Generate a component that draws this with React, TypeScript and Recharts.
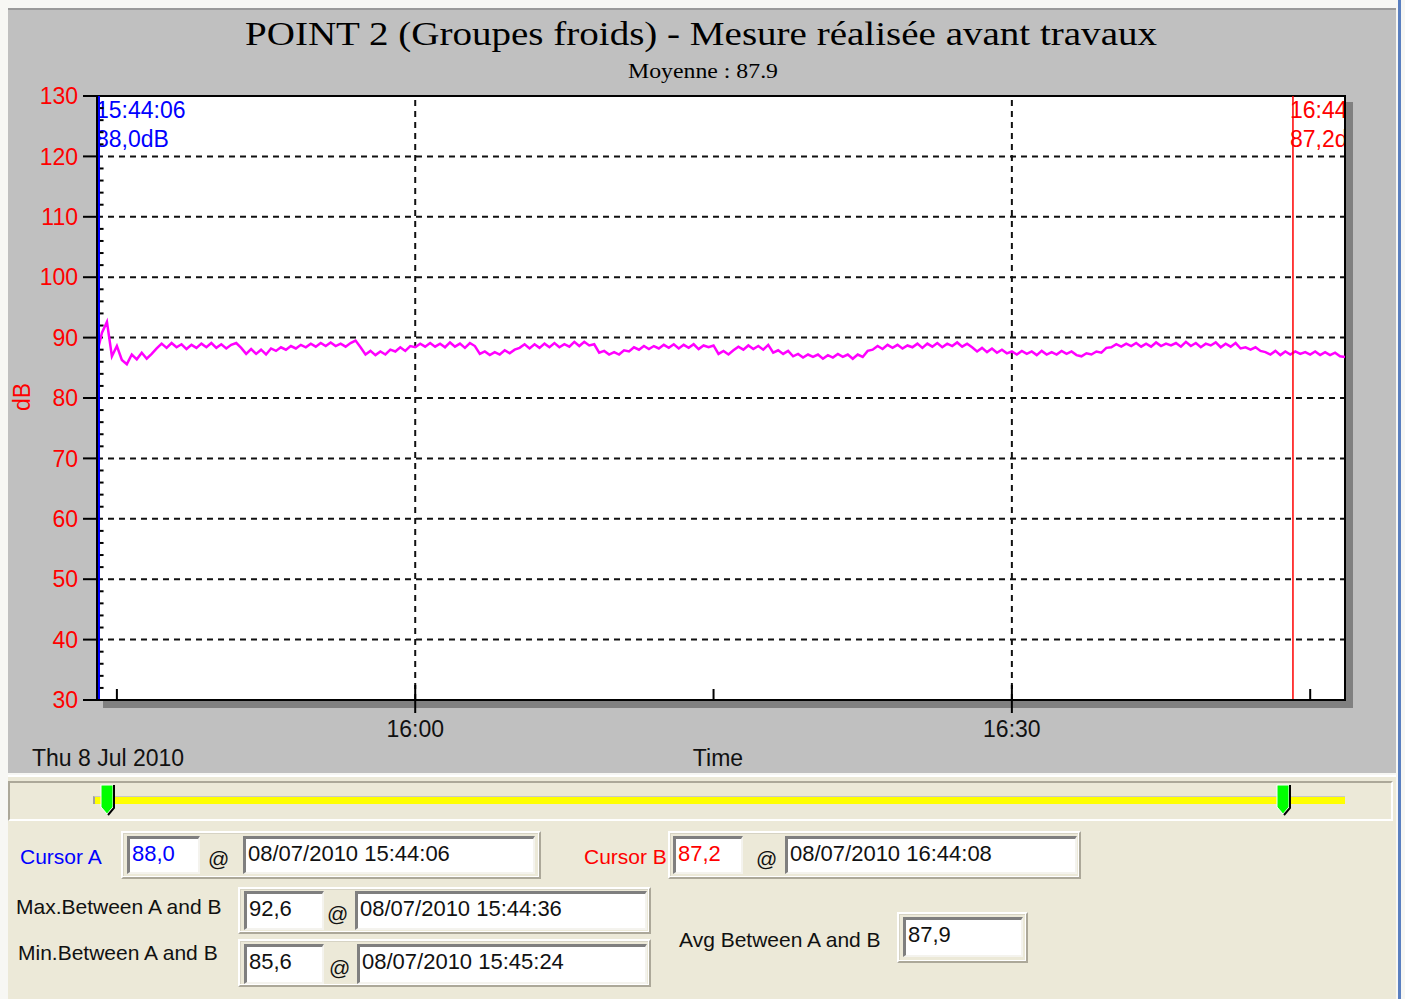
import React from "react";
import {
  LineChart,
  Line,
  XAxis,
  YAxis,
  CartesianGrid,
  ReferenceLine,
  ReferenceArea,
} from "recharts";

// one reading every 15 s, starting 15:44:00 (x axis is in minutes after 15:44)
const sampleStepMin = 0.25;
const levels = [
  87.4, 90.8, 92.6, 86.9, 88.6, 86.3, 85.6, 87.2, 86.4, 87.5, 86.5, 87.3,
  88.2, 89.0, 88.3, 89.1, 88.4, 88.9, 88.1, 88.8, 88.3, 89.0, 88.4, 89.1,
  88.3, 88.9, 88.2, 88.8, 89.1, 88.3, 87.3, 88.1, 87.3, 88.0, 87.2, 88.2,
  87.8, 88.4, 88.0, 88.6, 88.2, 88.8, 88.4, 89.0, 88.5, 89.1, 88.6, 89.2,
  88.6, 89.0, 88.5, 89.1, 89.5, 88.4, 87.2, 87.8, 87.1, 87.7, 87.2, 88.0,
  87.7, 88.4, 87.8, 88.6, 88.4, 89.0, 88.5, 89.1, 88.5, 89.0, 88.4, 89.2,
  88.5, 89.0, 88.3, 89.1, 88.6, 87.3, 87.7, 87.1, 87.6, 87.2, 87.9, 87.4,
  88.0, 88.3, 88.9, 88.2, 88.9, 88.3, 89.0, 88.4, 89.1, 88.4, 88.9, 88.5,
  89.3, 88.6, 89.3, 88.7, 88.9, 87.5, 87.8, 87.2, 87.6, 87.2, 87.9, 87.7,
  88.4, 88.0, 88.6, 88.1, 88.6, 88.2, 88.8, 88.3, 88.9, 88.2, 88.8, 88.3,
  88.9, 88.1, 88.7, 88.4, 88.7, 87.3, 87.8, 87.2, 87.9, 88.5, 88.0, 88.7,
  88.1, 88.6, 88.0, 88.8, 87.5, 87.9, 87.3, 87.8, 86.9, 87.3, 86.7, 87.2,
  86.8, 87.2, 86.5, 87.1, 86.7, 87.3, 86.8, 87.2, 86.5, 87.2, 86.8, 87.8,
  88.0, 88.6, 88.1, 88.8, 88.3, 88.8, 88.2, 88.7, 88.4, 89.0, 88.3, 89.0,
  88.5, 89.1, 88.4, 89.0, 88.6, 89.2, 88.5, 89.0, 88.4, 87.7, 88.3, 87.6,
  88.2, 87.5, 88.0, 87.4, 87.7, 87.2, 87.8, 87.3, 87.7, 87.1, 87.8, 87.2,
  87.6, 87.2, 87.8, 87.3, 87.7, 87.1, 86.9, 87.4, 87.2, 87.7, 87.5, 88.3,
  88.4, 88.9, 88.5, 89.0, 88.6, 89.1, 88.5, 89.0, 88.5, 89.2, 88.6, 89.0,
  88.7, 89.1, 88.5, 89.3, 88.6, 89.1, 88.4, 89.0, 88.7, 89.2, 88.4, 89.0,
  88.5, 89.1, 88.2, 88.4, 88.0, 88.4, 87.8, 87.6, 87.2, 87.8, 87.1, 87.7,
  87.2, 87.7, 87.3, 87.6, 87.2, 87.7, 87.1, 87.6, 87.1, 87.5, 86.9, 86.8,
];

const timeEnd = 62.75;
const timeTicks = [1, 16, 31, 46, 61];
const timeLabels: Record<number, string> = { 16: "16:00", 46: "16:30" };
const gridTimes = [16, 46];
const dbTicks = [30, 40, 50, 60, 70, 80, 90, 100, 110, 120, 130];
const dbMinorTicks = [
  32, 34, 36, 38, 42, 44, 46, 48, 52, 54, 56, 58, 62, 64, 66, 68, 72, 74, 76,
  78, 82, 84, 86, 88, 92, 94, 96, 98, 102, 104, 106, 108, 112, 114, 116, 118,
  122, 124, 126, 128,
];
const minorTickLen = 0.33; // minutes, the small inner ticks on the dB axis

const cursorA = { time: 0.1, clock: "15:44:06", value: "88,0", date: "08/07/2010 15:44:06" };
const cursorB = { time: 60.133, clock: "16:44:08", value: "87,2", date: "08/07/2010 16:44:08" };
const maxReading = { value: "92,6", date: "08/07/2010 15:44:36" };
const minReading = { value: "85,6", date: "08/07/2010 15:45:24" };
const avgReading = "87,9";

const title = "POINT 2 (Groupes froids) - Mesure réalisée avant travaux";
const subtitle = "Moyenne : 87.9";
const dayLabel = "Thu 8 Jul 2010";

const data = levels.map((db, i) => ({ t: i * sampleStepMin, db }));

const sans = "'Liberation Sans', Arial, sans-serif";
const serif = "'Liberation Serif', 'Times New Roman', serif";

const TimeTick = (props: any) => {
  const { x, y, payload } = props;
  const label = timeLabels[payload.value];
  if (!label) {
    return <line x1={x} x2={x} y1={y - 11} y2={y} stroke="#000" strokeWidth={2} />;
  }
  return (
    <g>
      <line x1={x} x2={x} y1={y - 15} y2={y + 13} stroke="#000" strokeWidth={2} />
      <text x={x} y={y + 37} textAnchor="middle" fontSize={23} fontFamily={sans} fill="#111">
        {label}
      </text>
    </g>
  );
};

const PlotFrame = (props: any) => {
  const { x, y, width, height } = props;
  return (
    <g>
      <rect x={x + width + 1} y={y + 6} width={7} height={height + 2} fill="#808080" />
      <rect x={x + 6} y={y + height + 1} width={width + 2} height={7} fill="#808080" />
      <rect x={x} y={y} width={width} height={height} fill="none" stroke="#000" strokeWidth={2} />
    </g>
  );
};

const CursorLabel = (props: any) => {
  const { x, y, width, height, clock, value, color, id } = props;
  return (
    <g>
      <defs>
        <clipPath id={id}>
          <rect x={x - 4} y={y} width={width + 3} height={height} />
        </clipPath>
      </defs>
      <g clipPath={`url(#${id})`} fill={color} fontSize={23} fontFamily={sans}>
        <text x={x - 3} y={y + 22}>{clock}</text>
        <text x={x - 3} y={y + 51}>{value}dB</text>
      </g>
    </g>
  );
};

const Txt = ({ x, base, color = "#111", size = 21, children }: any) => (
  <div
    style={{
      position: "absolute",
      left: x,
      top: base - 18,
      fontSize: size,
      lineHeight: "21px",
      color,
      fontFamily: sans,
      whiteSpace: "nowrap",
    }}
  >
    {children}
  </div>
);

const Group = ({ x, y, w, h }: any) => (
  <div
    style={{
      position: "absolute",
      left: x,
      top: y,
      width: w,
      height: h,
      boxSizing: "border-box",
      borderTop: "2px solid #fff",
      borderLeft: "2px solid #fff",
      borderRight: "2px solid #aca899",
      borderBottom: "2px solid #aca899",
      boxShadow: "inset -1px -1px 0 #fff, inset 1px 1px 0 #d6d3c4",
    }}
  />
);

const Field = ({ x, y, w, h, text, color = "#111" }: any) => (
  <div
    style={{
      position: "absolute",
      left: x,
      top: y,
      width: w,
      height: h,
      boxSizing: "border-box",
      background: "#fff",
      borderTop: "3px solid #7f7f7f",
      borderLeft: "3px solid #7f7f7f",
      borderRight: "2px solid #f4f3ee",
      borderBottom: "2px solid #f4f3ee",
      fontFamily: sans,
      fontSize: 22,
      lineHeight: "30px",
      color,
      paddingLeft: 2,
      whiteSpace: "nowrap",
      overflow: "hidden",
    }}
  >
    {text}
  </div>
);

const Thumb = ({ x }: any) => (
  <svg style={{ position: "absolute", left: x, top: 783 }} width={20} height={36}>
    <path d="M2 2 H14 V24 L8 31 L2 24 Z" fill="#00ff00" stroke="#fff" strokeWidth={1} />
    <path d="M15 2 V25 L9 32" fill="none" stroke="#000" strokeWidth={2} />
  </svg>
);

export default function App() {
  return (
    <div
      style={{
        position: "absolute",
        left: 0,
        top: 0,
        width: 1405,
        height: 999,
        background: "#f7f7f4",
        overflow: "hidden",
      }}
    >
      {/* chart panel */}
      <div style={{ position: "absolute", left: 8, top: 8, width: 1388, height: 765, background: "#c0c0c0", borderTop: "2px solid #9a9a9a", boxSizing: "border-box" }} />
      <div style={{ position: "absolute", left: 1398, top: 0, width: 3, height: 999, background: "#5a7fc0" }} />

      <div style={{ position: "absolute", left: 0, top: 0 }}>
        <LineChart
          width={1400}
          height={780}
          data={data}
          margin={{ top: 96, right: 55, bottom: 20, left: 37 }}
        >
          <CartesianGrid
            yAxisId="db"
            vertical={false}
            fill="#fff"
            stroke="#111"
            strokeWidth={2}
            strokeDasharray="6 5"
          />
          <XAxis
            dataKey="t"
            type="number"
            domain={[0, timeEnd]}
            ticks={timeTicks}
            interval={0}
            tickSize={0}
            tickMargin={0}
            tickLine={false}
            tick={(p: any) => <TimeTick {...p} />}
            axisLine={{ stroke: "#000", strokeWidth: 2 }}
            height={60}
          />
          <YAxis
            yAxisId="db"
            type="number"
            domain={[30, 130]}
            ticks={dbTicks}
            interval={0}
            width={60}
            tickSize={14}
            tickMargin={5}
            tick={{ fill: "#ff0000", fontSize: 23, fontFamily: sans }}
            tickLine={{ stroke: "#000", strokeWidth: 2 }}
            axisLine={{ stroke: "#000", strokeWidth: 2 }}
          />
          {gridTimes.map((t) => (
            <ReferenceLine
              key={t}
              x={t}
              yAxisId="db"
              stroke="#111"
              strokeWidth={2}
              strokeDasharray="6 5"
            />
          ))}
          {dbMinorTicks.map((v) => (
            <ReferenceLine
              key={`m${v}`}
              yAxisId="db"
              ifOverflow="visible"
              segment={[
                { x: 0, y: v },
                { x: minorTickLen, y: v },
              ]}
              stroke="#000"
              strokeWidth={2}
            />
          ))}
          <ReferenceArea
            yAxisId="db"
            x1={0}
            x2={timeEnd}
            y1={30}
            y2={130}
            ifOverflow="visible"
            shape={(p: any) => <PlotFrame {...p} />}
          />
          <Line
            yAxisId="db"
            type="linear"
            dataKey="db"
            stroke="#ff00ff"
            strokeWidth={2.5}
            dot={false}
            isAnimationActive={false}
          />
          <ReferenceLine x={cursorA.time} yAxisId="db" stroke="#0000ff" strokeWidth={2} />
          <ReferenceLine x={cursorB.time} yAxisId="db" stroke="#ff0000" strokeWidth={1.5} />
          <ReferenceArea
            yAxisId="db"
            x1={cursorA.time}
            x2={timeEnd}
            y1={30}
            y2={130}
            shape={(p: any) => (
              <CursorLabel {...p} id="clipA" clock={cursorA.clock} value={cursorA.value} color="#0000ff" />
            )}
          />
          <ReferenceArea
            yAxisId="db"
            x1={cursorB.time}
            x2={timeEnd}
            y1={30}
            y2={130}
            shape={(p: any) => (
              <CursorLabel {...p} id="clipB" clock={cursorB.clock} value={cursorB.value} color="#ff0000" />
            )}
          />
        </LineChart>
      </div>

      <svg style={{ position: "absolute", left: 0, top: 0 }} width={1405} height={780}>
        <text x={701} y={45} textAnchor="middle" fontFamily={serif} fontSize={34} fill="#000" textLength={912} lengthAdjust="spacingAndGlyphs">
          {title}
        </text>
        <text x={703} y={78} textAnchor="middle" fontFamily={serif} fontSize={21} fill="#000" textLength={150} lengthAdjust="spacingAndGlyphs">
          {subtitle}
        </text>
        <text transform="translate(30 397) rotate(-90)" textAnchor="middle" fontFamily={sans} fontSize={23} fill="#ff0000">
          dB
        </text>
        <text x={32} y={766} fontFamily={sans} fontSize={23} fill="#111">
          {dayLabel}
        </text>
        <text x={718} y={766} textAnchor="middle" fontFamily={sans} fontSize={23} fill="#111">
          Time
        </text>
      </svg>

      {/* cursor / statistics panel */}
      <div style={{ position: "absolute", left: 8, top: 775, width: 1388, height: 224, background: "#ece9d8", borderTop: "2px solid #fff", boxSizing: "border-box" }} />
      <div style={{ position: "absolute", left: 8, top: 781, width: 1385, height: 40, boxSizing: "border-box", borderTop: "2px solid #aca899", borderLeft: "2px solid #aca899", borderBottom: "2px solid #fff", borderRight: "2px solid #fff" }} />
      <div style={{ position: "absolute", left: 93, top: 796, width: 1252, height: 8, background: "#ffff00", borderLeft: "2px solid #a0a0a0", borderTop: "1px solid #c8c8c8", boxSizing: "border-box" }} />
      <Thumb x={99} />
      <Thumb x={1275} />

      <Txt x={20} base={864} color="#0000ff">Cursor A</Txt>
      <Group x={121} y={831} w={420} h={48} />
      <Field x={127} y={836} w={73} h={38} text={cursorA.value} color="#0000ff" />
      <Txt x={208} base={866}>@</Txt>
      <Field x={243} y={836} w={292} h={38} text={cursorA.date} />

      <Txt x={584} base={864} color="#ff0000">Cursor B</Txt>
      <Group x={668} y={831} w={413} h={48} />
      <Field x={673} y={836} w={70} h={38} text={cursorB.value} color="#ff0000" />
      <Txt x={756} base={866}>@</Txt>
      <Field x={785} y={836} w={292} h={38} text={cursorB.date} />

      <Txt x={16} base={914}>Max.Between A and B</Txt>
      <Group x={238} y={887} w={413} h={47} />
      <Field x={244} y={891} w={80} h={39} text={maxReading.value} />
      <Txt x={327} base={921}>@</Txt>
      <Field x={355} y={891} w={292} h={39} text={maxReading.date} />

      <Txt x={18} base={960}>Min.Between A and B</Txt>
      <Group x={238} y={939} w={413} h={48} />
      <Field x={244} y={944} w={80} h={40} text={minReading.value} />
      <Txt x={329} base={975}>@</Txt>
      <Field x={357} y={944} w={290} h={40} text={minReading.date} />

      <Txt x={679} base={947}>Avg Between A and B</Txt>
      <Group x={897} y={912} w={131} h={51} />
      <Field x={903} y={917} w={120} h={40} text={avgReading} />
    </div>
  );
}
